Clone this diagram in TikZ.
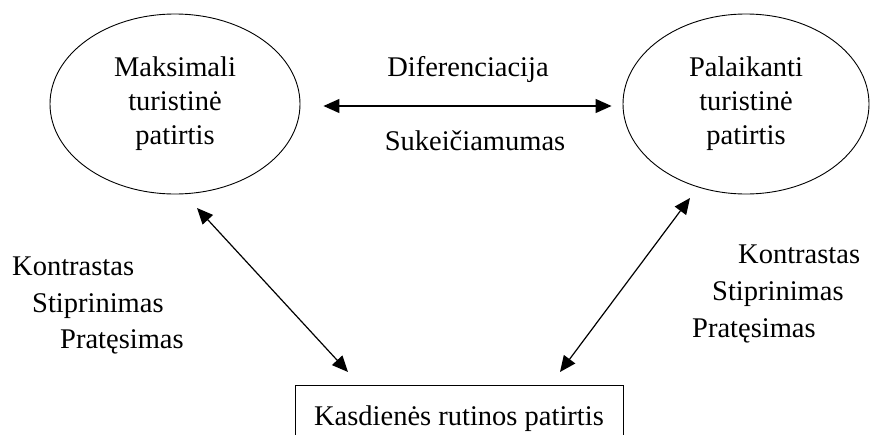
\documentclass[tikz,border=0pt]{standalone}
\usepackage{fontspec}
\setmainfont{Liberation Serif}
\usetikzlibrary{shapes.geometric,arrows.meta}
\begin{document}
\begin{tikzpicture}[x=1pt,y=-1pt,
  every node/.style={font=\fontsize{28.5}{34}\selectfont, inner sep=0pt},
  bubble/.style={draw, line width=0.9pt, ellipse, align=center},
  routine/.style={draw, line width=0.9pt, rectangle, minimum width=328pt,
    text height=20pt, text depth=6pt, inner ysep=20pt},
  label/.style={anchor=base west},
  twoway/.style={line width=1.2pt, {Triangle[length=16pt,width=14pt]}-{Triangle[length=16pt,width=14pt]}}
]
\clip (0,0) rectangle (870,434);
\fill[white] (0,0) rectangle (870,434);

% two experience ellipses
\node[bubble, minimum width=250pt, minimum height=180pt] (max) at (175,104)
  {Maksimali\\turistinė\\patirtis};
\node[bubble, minimum width=246pt, minimum height=180pt] (keep) at (746,104)
  {Palaikanti\\turistinė\\patirtis};

% everyday routine box
\node[routine, anchor=north] (daily) at (459,385) {Kasdienės rutinos patirtis};

% horizontal link with its two labels
\draw[twoway] ([xshift=23pt,yshift=-2pt]max.east) -- ([xshift=-11pt,yshift=-2pt]keep.west);
\node[anchor=base] (dif) at (468,76) {Diferenciacija};
\node[anchor=base] (suk) at (475,150) {Sukeičiamumas};

% diagonal links to the routine box
\coordinate (maxfoot) at ([shift={(22,104)}]max.center);
\coordinate (dailyL) at ([shift={(-111,-13)}]daily.north);
\coordinate (keepfoot) at ([shift={(-56,94)}]keep.center);
\coordinate (dailyR) at ([shift={(101,-13)}]daily.north);
\draw[twoway] (maxfoot) -- (dailyL);
\draw[twoway] (keepfoot) -- (dailyR);

% left label group
\node[label] (lk) at (12,275) {Kontrastas};
\node[label] (ls) at (32,312) {Stiprinimas};
\node[label] (lp) at (60,348) {Pratęsimas};

% right label group
\node[label] (rk) at (738,263) {Kontrastas};
\node[label] (rs) at (712,300) {Stiprinimas};
\node[label] (rp) at (692,337) {Pratęsimas};
\end{tikzpicture}
\end{document}
